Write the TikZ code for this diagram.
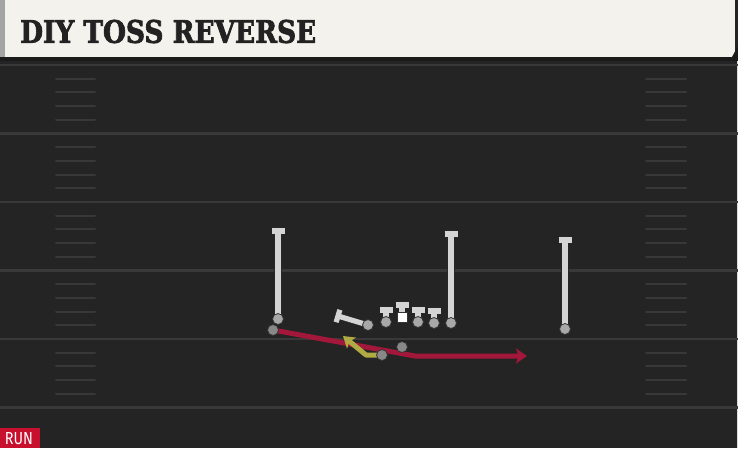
\documentclass[tikz,border=0pt]{standalone}
\usepackage{fontspec}
\usepackage[]{xcolor}
\usepackage{tikz}
\usetikzlibrary{arrows.meta}
\newfontfamily\titlefont{DejaVu Serif}[BoldFeatures={FakeBold=2.5}]
\newfontfamily\badgefont{Fira Sans}
\definecolor{headbg}{HTML}{F4F2EC}
\definecolor{headedge}{HTML}{A4A4A4}
\definecolor{fieldbg}{HTML}{242424}
\definecolor{fielddark}{HTML}{1B1B1B}
\definecolor{yardline}{HTML}{393939}
\definecolor{hashline}{HTML}{383838}
\definecolor{titleink}{HTML}{222222}
\definecolor{plgray}{HTML}{D4D4D4}
\definecolor{endgray}{HTML}{A8A8A8}
\definecolor{dotgray}{HTML}{888888}
\definecolor{routered}{HTML}{A3173B}
\definecolor{routeyel}{HTML}{B0AA45}
\definecolor{runred}{HTML}{C8102E}

\begin{document}
\begin{tikzpicture}[x=1pt,y=-1pt,
    yard/.style={draw=yardline,line width=2.2pt},
    hash/.style={draw=hashline,line width=2pt,line cap=round},
    stem/.style={draw=plgray,line width=5.2pt,preaction={draw=black!85,line width=7.2pt}},
    dot/.style={circle,fill=dotgray,draw=black!80,line width=.8pt,inner sep=0pt,minimum size=11pt},
    enddot/.style={dot,fill=endgray},
    route/.style={line width=5pt,line join=round}]
      \useasboundingbox (0,0) rectangle (738,448);
      % field
      \fill[fieldbg] (0,0) rectangle (738,448);
      \fill[fielddark] (0,56) rectangle (738,61);
      \draw[headedge!40,line width=1pt] (737,61) -- (737,448);
      \foreach \y in {65,133.5,202,270.5,339,407.5}
          \draw[yard] (0,\y) -- (738,\y);
      \foreach \y in {65,133.5,202,270.5,339}
        \foreach \k in {1,...,4} {
          \draw[hash] (56,\y+\k*13.7) -- (95,\y+\k*13.7);
          \draw[hash] (646,\y+\k*13.7) -- (686,\y+\k*13.7);
        }
      % header
      \fill[headbg] (5,0) rectangle (735,57);
      \fill[headedge] (0,0) rectangle (5,57);
      \fill[fielddark] (738,46) -- (738,57) -- (732,57) -- cycle;
      \node[anchor=west,inner sep=0pt,text=titleink] (title) at (20,31.5)
          {\resizebox{296pt}{23pt}{\titlefont\bfseries DIY TOSS REVERSE}};
      % players
      \coordinate (lwr)  at (278,319);
      \coordinate (rb)   at (273,330);
      \coordinate (wing) at (368,325);
      \coordinate (lt)   at (386,322);
      \coordinate (ctr)  at (402,317);
      \coordinate (rg)   at (418,322);
      \coordinate (rt)   at (434,323);
      \coordinate (te)   at (451,323);
      \coordinate (rwr)  at (565,329);
      \coordinate (qb)   at (402,347);
      \coordinate (ball) at (382,355);
      % routes
      \coordinate (ybend) at (366,355);
      \coordinate (yend)  at (343,336);
      \coordinate (rbend) at (415,356);
      \coordinate (rend)  at (527,356);
      \draw[route,routered,-{Stealth[length=11pt,width=15pt,inset=2.5pt]}] (rb) -- (rbend) -- (rend);
      \draw[route,routeyel,-{Stealth[length=11pt,width=14pt,inset=2.5pt]}] (ball) -- (ybend) -- (yend);
      % blocks
      \draw[stem] (lwr) -- (278,231) ++(-6.5,0) -- ++(13,0);
      \draw[stem] (te)  -- (451,234) ++(-6.5,0) -- ++(13,0);
      \draw[stem] (rwr) -- (565,240) ++(-6.5,0) -- ++(13,0);
      \draw[stem] (wing) -- (338,316) ++(-1.9,6.2) -- ++(3.8,-12.4);
      \foreach \p in {lt,rg,rt}
        \draw[stem] (\p) -- ++(0,-12) ++(-6.5,0) -- ++(13,0);
      \draw[stem] (ctr) -- ++(0,-12) ++(-6.5,0) -- ++(13,0);
      \foreach \p in {lwr,wing,lt,rg,rt,te,rwr}
        \node[enddot] at (\p) {};
      \node[fill=white,draw=black!80,line width=.8pt,inner sep=0pt,minimum size=10pt] (c) at (ctr) {};
      \node[dot] (back) at (rb) {};
      \node[dot] (q) at (qb) {};
      \node[dot] (b) at (ball) {};
      % tag
      \fill[runred] (0,428) rectangle (40,448);
      \node[inner sep=0pt,text=white] (tag) at (19,439)
          {\resizebox{28pt}{12pt}{\badgefont RUN}};
\end{tikzpicture}
\end{document}
